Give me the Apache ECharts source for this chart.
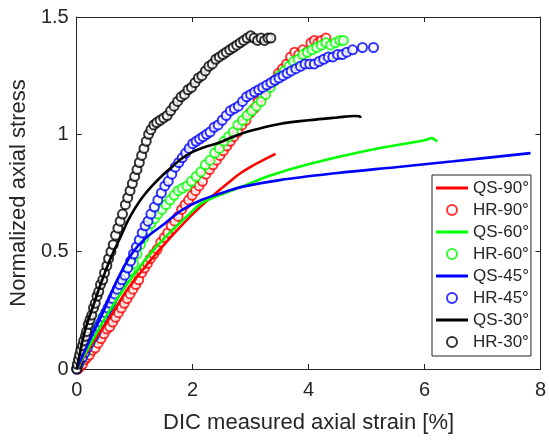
<!DOCTYPE html>
<html>
<head>
<meta charset="utf-8">
<script src="https://cdn.jsdelivr.net/npm/echarts@6/dist/echarts.min.js"></script>
<style>
html,body{margin:0;padding:0;background:#fff;}
#chart{width:549px;height:441px;}
</style>
</head>
<body>
<div id="chart"></div>
<script>
// ---- Data ----
const xTicks = [0, 2, 4, 6, 8];
const yTicks = [0, 0.5, 1, 1.5];
const seriesNames = ['QS-90°', 'HR-90°', 'QS-60°', 'HR-60°', 'QS-45°', 'HR-45°', 'QS-30°', 'HR-30°'];

const qs90 = [[0,0],[0.1,0.04],[0.3,0.12],[0.6,0.23],[0.85,0.33],[1.13,0.42],[1.4,0.5],[1.69,0.58],[2.0,0.66],[2.32,0.733],[2.6,0.79],[2.83,0.835],[3.1,0.875],[3.43,0.917]];
const hr90 = [[0.02,0],[0.06,0.01],[0.1,0.02],[0.14,0.04],[0.18,0.05],[0.22,0.06],[0.27,0.08],[0.32,0.09],[0.37,0.11],[0.42,0.13],[0.47,0.15],[0.52,0.17],[0.57,0.18],[0.62,0.2],[0.67,0.22],[0.72,0.24],[0.77,0.26],[0.82,0.28],[0.87,0.3],[0.92,0.32],[0.97,0.34],[1.02,0.36],[1.07,0.38],[1.12,0.41],[1.17,0.43],[1.22,0.45],[1.27,0.47],[1.33,0.49],[1.39,0.51],[1.45,0.54],[1.51,0.56],[1.57,0.58],[1.63,0.61],[1.69,0.63],[1.75,0.65],[1.81,0.68],[1.87,0.7],[1.93,0.72],[1.99,0.74],[2.05,0.76],[2.11,0.78],[2.17,0.8],[2.23,0.83],[2.29,0.85],[2.35,0.87],[2.41,0.89],[2.47,0.91],[2.53,0.93],[2.59,0.95],[2.65,0.97],[2.71,0.99],[2.78,1.01],[2.85,1.04],[2.92,1.06],[2.99,1.09],[3.06,1.11],[3.13,1.14],[3.2,1.16],[3.27,1.19],[3.34,1.21],[3.41,1.23],[3.48,1.26],[3.55,1.28],[3.62,1.3],[3.69,1.33],[3.76,1.35],[3.83,1.34],[3.9,1.36],[3.97,1.35],[4.04,1.39],[4.1,1.4],[4.16,1.39],[4.22,1.4],[4.3,1.41]];

const qs60 = [[0,0],[0.2,0.09],[0.45,0.2],[0.7,0.3],[1.04,0.42],[1.3,0.5],[1.6,0.58],[1.9,0.65],[2.15,0.706],[2.5,0.745],[2.83,0.775],[3.34,0.825],[4.03,0.875],[5.0,0.93],[6.0,0.975],[6.13,0.984],[6.17,0.978],[6.22,0.97]];
const hr60 = [[0.01,0.01],[0.05,0.03],[0.1,0.05],[0.15,0.07],[0.2,0.1],[0.25,0.12],[0.3,0.14],[0.35,0.17],[0.4,0.19],[0.45,0.22],[0.5,0.24],[0.55,0.26],[0.6,0.28],[0.65,0.31],[0.7,0.33],[0.75,0.35],[0.8,0.37],[0.86,0.39],[0.92,0.42],[0.98,0.45],[1.04,0.49],[1.1,0.53],[1.16,0.56],[1.22,0.59],[1.28,0.62],[1.34,0.64],[1.4,0.66],[1.47,0.68],[1.54,0.7],[1.61,0.72],[1.68,0.74],[1.75,0.76],[1.82,0.77],[1.9,0.78],[1.98,0.8],[2.06,0.82],[2.14,0.84],[2.22,0.87],[2.3,0.89],[2.38,0.92],[2.46,0.94],[2.54,0.97],[2.62,0.99],[2.7,1.01],[2.78,1.04],[2.86,1.06],[2.94,1.08],[3.02,1.1],[3.1,1.12],[3.18,1.14],[3.26,1.17],[3.34,1.2],[3.42,1.23],[3.5,1.25],[3.58,1.27],[3.66,1.29],[3.74,1.31],[3.82,1.32],[3.9,1.34],[3.98,1.35],[4.06,1.36],[4.14,1.37],[4.22,1.38],[4.3,1.39],[4.38,1.38],[4.46,1.39],[4.54,1.4],[4.6,1.4]];

const qs45 = [[0,0],[0.2,0.11],[0.45,0.24],[0.7,0.38],[0.96,0.494],[1.2,0.56],[1.52,0.62],[1.8,0.675],[2.15,0.72],[2.5,0.75],[2.83,0.775],[3.5,0.805],[4.5,0.835],[5.5,0.86],[6.5,0.885],[7.83,0.92]];
const hr45 = [[0,0],[0.03,0.02],[0.06,0.04],[0.1,0.05],[0.14,0.07],[0.18,0.09],[0.22,0.11],[0.26,0.13],[0.3,0.14],[0.34,0.16],[0.38,0.18],[0.42,0.2],[0.46,0.22],[0.5,0.24],[0.54,0.26],[0.58,0.28],[0.62,0.3],[0.66,0.32],[0.7,0.34],[0.74,0.36],[0.78,0.38],[0.83,0.4],[0.88,0.43],[0.93,0.46],[0.98,0.49],[1.03,0.52],[1.08,0.55],[1.13,0.58],[1.18,0.61],[1.23,0.63],[1.28,0.66],[1.34,0.69],[1.4,0.72],[1.46,0.75],[1.52,0.78],[1.58,0.8],[1.64,0.83],[1.7,0.86],[1.76,0.88],[1.82,0.9],[1.88,0.92],[1.94,0.94],[2.0,0.96],[2.06,0.97],[2.12,0.98],[2.18,0.99],[2.24,1.0],[2.3,1.01],[2.37,1.03],[2.44,1.04],[2.51,1.06],[2.58,1.08],[2.65,1.1],[2.72,1.11],[2.79,1.12],[2.86,1.14],[2.93,1.16],[3.0,1.17],[3.07,1.18],[3.14,1.19],[3.21,1.2],[3.28,1.21],[3.35,1.22],[3.42,1.23],[3.49,1.24],[3.56,1.25],[3.63,1.26],[3.7,1.27],[3.78,1.28],[3.86,1.29],[3.94,1.3],[4.02,1.3],[4.1,1.3],[4.18,1.31],[4.26,1.32],[4.34,1.33],[4.42,1.33],[4.5,1.34],[4.58,1.34],[4.66,1.35],[4.76,1.36],[4.93,1.37],[5.12,1.37]];

const qs30 = [[0,0],[0.05,0.06],[0.15,0.17],[0.3,0.28],[0.44,0.38],[0.6,0.48],[0.75,0.56],[0.9,0.64],[1.1,0.72],[1.3,0.78],[1.5,0.83],[1.64,0.86],[1.8,0.895],[2.0,0.925],[2.2,0.945],[2.44,0.963],[2.7,0.99],[3.0,1.015],[3.5,1.044],[4.0,1.06],[4.5,1.072],[4.8,1.078],[4.88,1.077],[4.9,1.07]];
const hr30 = [[0,0],[0.01,0.02],[0.03,0.04],[0.05,0.06],[0.07,0.08],[0.1,0.1],[0.12,0.12],[0.15,0.14],[0.17,0.16],[0.2,0.19],[0.23,0.21],[0.26,0.23],[0.29,0.26],[0.32,0.28],[0.35,0.31],[0.38,0.33],[0.41,0.36],[0.45,0.38],[0.48,0.41],[0.52,0.44],[0.55,0.47],[0.59,0.5],[0.63,0.53],[0.67,0.57],[0.71,0.6],[0.75,0.63],[0.79,0.66],[0.84,0.7],[0.88,0.73],[0.92,0.76],[0.96,0.79],[1.0,0.82],[1.04,0.85],[1.08,0.88],[1.12,0.91],[1.16,0.94],[1.2,0.97],[1.24,1.0],[1.28,1.02],[1.33,1.04],[1.38,1.05],[1.44,1.06],[1.5,1.07],[1.56,1.08],[1.62,1.1],[1.68,1.12],[1.74,1.14],[1.8,1.16],[1.86,1.17],[1.92,1.19],[1.98,1.2],[2.04,1.22],[2.1,1.24],[2.16,1.25],[2.22,1.27],[2.28,1.29],[2.34,1.3],[2.4,1.32],[2.46,1.33],[2.52,1.34],[2.58,1.35],[2.64,1.36],[2.7,1.37],[2.76,1.38],[2.82,1.39],[2.88,1.4],[2.94,1.41],[3.0,1.42],[3.06,1.41],[3.12,1.4],[3.18,1.41],[3.24,1.4],[3.3,1.41],[3.35,1.41]];

const colors = ['#ff0000', '#ff0000', '#00ff00', '#00ff00', '#0000ff', '#0000ff', '#000000', '#000000'];
const dataSets = [qs90, hr90, qs60, hr60, qs45, hr45, qs30, hr30];

// ---- Chart ----
const axisColor = '#262626';
const font = 'Arial, "Liberation Sans", Helvetica, sans-serif';
const chart = echarts.init(document.getElementById('chart'), null, {renderer: 'canvas'});

const series = dataSets.map((d, i) => {
  const isLine = i % 2 === 0;
  if (isLine) {
    return {
      name: seriesNames[i], type: 'line', data: d, showSymbol: false, symbol: 'none',
      smooth: 0.35, lineStyle: {color: colors[i], width: 2.6}, itemStyle: {color: colors[i]},
      xAxisIndex: 0, yAxisIndex: 0, animation: false
    };
  }
  return {
    name: seriesNames[i], type: 'scatter', data: d, symbol: 'emptyCircle', symbolSize: 9,
    itemStyle: {color: colors[i], borderColor: colors[i], borderWidth: 0.9},
    xAxisIndex: 0, yAxisIndex: 0, animation: false
  };
});

const legendData = seriesNames.map((n, i) => (i % 2 === 0)
  ? {name: n, icon: 'path://M0,0L32,0L32,3L0,3Z', itemStyle: {color: colors[i]}}
  : {name: n});

const option = {
  backgroundColor: '#ffffff',
  animation: false,
  grid: {left: 74, right: 6, top: 17, bottom: 72, containLabel: false},
  xAxis: [
    {
      type: 'value', position: 'bottom', min: xTicks[0], max: xTicks[xTicks.length - 1], interval: 2,
      name: 'DIC measured axial strain [%]', nameLocation: 'middle', nameGap: 43,
      nameTextStyle: {fontFamily: font, fontSize: 22, color: axisColor},
      axisLine: {show: true, onZero: false, lineStyle: {color: axisColor, width: 1}},
      axisTick: {show: true, inside: true, length: 5, lineStyle: {color: axisColor}},
      axisLabel: {show: true, margin: 11, fontFamily: font, fontSize: 20, color: axisColor},
      splitLine: {show: false}
    },
    {
      type: 'value', position: 'top', min: xTicks[0], max: xTicks[xTicks.length - 1], interval: 2,
      axisLine: {show: true, onZero: false, lineStyle: {color: axisColor, width: 1}},
      axisTick: {show: true, inside: true, length: 5, lineStyle: {color: axisColor}},
      axisLabel: {show: false}, splitLine: {show: false}
    }
  ],
  yAxis: [
    {
      type: 'value', position: 'left', min: yTicks[0], max: yTicks[yTicks.length - 1], interval: 0.5,
      name: 'Normalized axial stress', nameLocation: 'middle', nameGap: 44,
      nameTextStyle: {fontFamily: font, fontSize: 22, color: axisColor},
      axisLine: {show: true, onZero: false, lineStyle: {color: axisColor, width: 1}},
      axisTick: {show: true, inside: true, length: 5, lineStyle: {color: axisColor}},
      axisLabel: {show: true, margin: 8, fontFamily: font, fontSize: 20, color: axisColor,
        formatter: v => String(v)},
      splitLine: {show: false}
    },
    {
      type: 'value', position: 'right', min: yTicks[0], max: yTicks[yTicks.length - 1], interval: 0.5,
      axisLine: {show: true, onZero: false, lineStyle: {color: axisColor, width: 1}},
      axisTick: {show: true, inside: true, length: 5, lineStyle: {color: axisColor}},
      axisLabel: {show: false}, splitLine: {show: false}
    }
  ],
  legend: {
    orient: 'vertical', left: 432, top: 175,
    data: legendData,
    backgroundColor: '#ffffff', borderColor: axisColor, borderWidth: 1,
    padding: [2, 2, 3, 4], itemGap: 0, itemWidth: 32, itemHeight: 10,
    textStyle: {fontFamily: font, fontSize: 17, color: axisColor, lineHeight: 22},
    selectedMode: false
  },
  series: series
};
chart.setOption(option);
</script>
</body>
</html>
